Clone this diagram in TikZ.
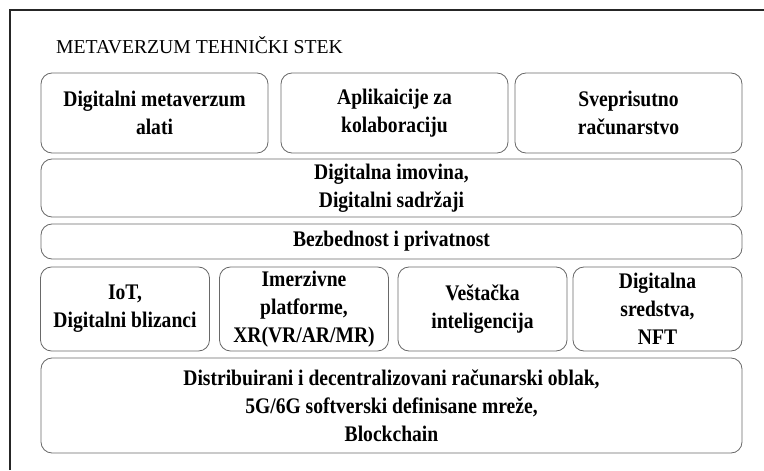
\documentclass[tikz,border=0pt]{standalone}
\usepackage{fontspec}
\setmainfont{Liberation Serif}
\newfontfamily\boxfont[FakeStretch=0.88]{Liberation Serif}
\usetikzlibrary{positioning}
\definecolor{boxgray}{RGB}{105,105,105}

\begin{document}
\begin{tikzpicture}[
    x=0.03cm, y=-0.03cm,
    layer/.style={rectangle, rounded corners=11*0.03cm, draw=boxgray, line width=0.7pt, align=center, inner sep=0pt, font=\boxfont\fontsize{19}{24}\selectfont\bfseries},
    frame/.style={line width=1pt, draw=black!85}
]
    \useasboundingbox (0,0) rectangle (764,470);

    % Frame and title
    \draw[frame] (10,470) -- (10,10) -- (764,10);
    \node[anchor=west, font=\fontsize{16.8}{19}\selectfont] (title) at (52,45) {METAVERZUM TEHNIČKI STEK};

    % Applications
    \node[layer, minimum width=227*0.03cm, minimum height=80*0.03cm] (tools) at (154.5,113) {Digitalni metaverzum\\alati};
    \node[layer, minimum width=227*0.03cm, minimum height=80*0.03cm] (collab) at (394.5,113) {Aplikaicije za\\kolaboraciju};
    \node[layer, minimum width=227*0.03cm, minimum height=80*0.03cm] (ubiq) at (628.5,113) {Sveprisutno\\računarstvo};

    % Assets and content
    \node[layer, minimum width=701*0.03cm, minimum height=58*0.03cm] (assets) at (391.5,188) {Digitalna imovina,\\Digitalni sadržaji};

    % Security
    \node[layer, minimum width=701*0.03cm, minimum height=35*0.03cm] (security) at (391.5,241.5) {Bezbednost i privatnost};

    % Enabling technologies
    \node[layer, minimum width=169*0.03cm, minimum height=84*0.03cm] (iot) at (125,309) {IoT,\\Digitalni blizanci};
    \node[layer, minimum width=169*0.03cm, minimum height=84*0.03cm] (xr) at (304,309) {Imerzivne\\platforme,\\XR(VR/AR/MR)};
    \node[layer, minimum width=169*0.03cm, minimum height=84*0.03cm] (ai) at (482.5,309) {Veštačka\\inteligencija};
    \node[layer, minimum width=169*0.03cm, minimum height=84*0.03cm] (nft) at (657.5,309) {Digitalna\\sredstva,\\NFT};

    % Infrastructure
    \node[layer, minimum width=701*0.03cm, minimum height=95*0.03cm] (infra) at (391.5,405.5) {Distribuirani i decentralizovani računarski oblak,\\5G/6G softverski definisane mreže,\\Blockchain};
\end{tikzpicture}
\end{document}
